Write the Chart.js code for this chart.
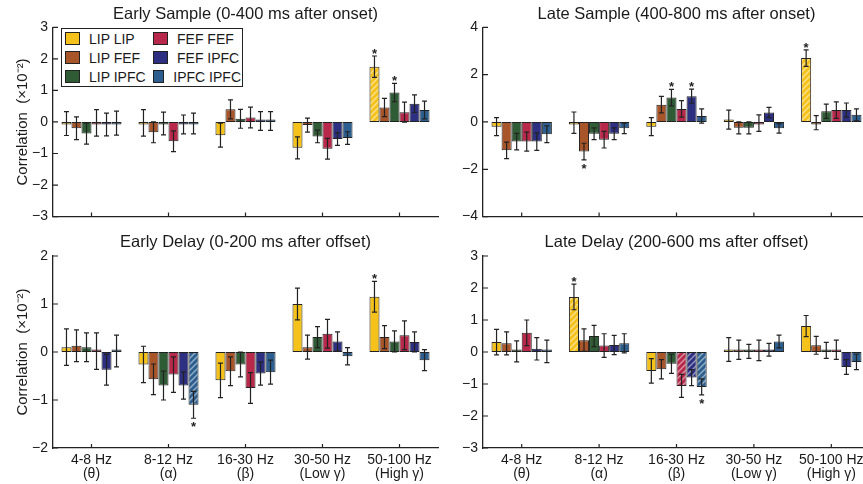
<!DOCTYPE html>
<html>
<head>
<meta charset="utf-8">
<script src="https://cdn.jsdelivr.net/npm/chart.js@4.4.1/dist/chart.umd.min.js"></script>
<style>
  html, body { margin: 0; padding: 0; background: #fff; }
  body { width: 863px; height: 484px; overflow: hidden; position: relative; font-family: "Liberation Sans", Arial, sans-serif; }
  canvas { position: absolute; }
  #legend {
    position: absolute; left: 61px; top: 28px; width: 177px; height: 57px;
    border: 1.5px solid #222; background: #fff; z-index: 5;
    display: grid; grid-template-columns: 88px 88px; grid-auto-rows: 19px;
    padding-left: 3px; box-sizing: content-box;
  }
  .item { display: flex; align-items: center; font-size: 14px; color: #1a1a1a; white-space: nowrap; }
  .sw { width: 13px; height: 11px; border: 1px solid #222; margin-right: 9px; }
</style>
</head>
<body>
<canvas id="c1" width="440" height="230" style="left:0;top:0"></canvas>
<canvas id="c2" width="442" height="230" style="left:430px;top:0"></canvas>
<canvas id="c3" width="440" height="254" style="left:0;top:230px"></canvas>
<canvas id="c4" width="442" height="254" style="left:430px;top:230px"></canvas>
<div id="legend"></div>
<script>
// Data (correlation x10^-2), rows = area pairs, columns = frequency bands
const pairs = ['LIP LIP', 'LIP FEF', 'LIP IPFC', 'FEF FEF', 'FEF IPFC', 'IPFC IPFC'];
const pairColors = ['#f5c21b', '#a9552a', '#2f5b35', '#b8284a', '#2d2f80', '#2c5f8f'];
const bands = [['4-8 Hz', '(θ)'], ['8-12 Hz', '(α)'], ['16-30 Hz', '(β)'], ['30-50 Hz', '(Low γ)'], ['50-100 Hz', '(High γ)']];

const earlySampleMean = [
  [-0.05, -0.03, -0.42, -0.82, 1.75],
  [-0.2, -0.33, 0.4, -0.1, 0.46],
  [-0.37, -0.05, 0.1, -0.46, 0.93],
  [-0.03, -0.61, 0.14, -0.85, 0.31],
  [-0.08, -0.08, 0.03, -0.54, 0.58],
  [-0.04, -0.05, 0.03, -0.51, 0.38]
];
const earlySampleErr = [
  [0.38, 0.42, 0.38, 0.35, 0.34],
  [0.36, 0.33, 0.3, 0.22, 0.29],
  [0.33, 0.36, 0.3, 0.2, 0.29],
  [0.42, 0.33, 0.33, 0.33, 0.32],
  [0.36, 0.3, 0.3, 0.2, 0.28],
  [0.38, 0.33, 0.3, 0.2, 0.28]
];
const earlySampleStars = [[0, 4], [2, 4]];
const earlySampleHatch = [[0, 4]];

const lateSampleMean = [
  [-0.2, -0.03, -0.2, 0.1, 2.7],
  [-1.2, -1.25, 0.73, -0.25, -0.03],
  [-0.83, -0.5, 1.03, -0.25, 0.45],
  [-0.83, -0.75, 0.55, -0.05, 0.5],
  [-0.83, -0.5, 1.09, 0.4, 0.5],
  [-0.52, -0.27, 0.25, -0.27, 0.3]
];
const lateSampleErr = [
  [0.38, 0.45, 0.38, 0.4, 0.35],
  [0.35, 0.35, 0.35, 0.25, 0.3],
  [0.35, 0.25, 0.35, 0.25, 0.3],
  [0.4, 0.35, 0.35, 0.35, 0.35],
  [0.37, 0.25, 0.3, 0.22, 0.3],
  [0.35, 0.22, 0.3, 0.2, 0.25]
];
const lateSampleStars = [[1, 1], [2, 2], [4, 2], [0, 4]];
const lateSampleHatch = [[0, 4]];

const earlyDelayMean = [
  [0.1, -0.26, -0.59, 1.0, 1.15],
  [0.13, -0.57, -0.4, 0.1, 0.31],
  [0.1, -0.7, -0.26, 0.31, 0.22],
  [0.02, -0.47, -0.75, 0.38, 0.35],
  [-0.37, -0.7, -0.45, 0.22, 0.21],
  [0.02, -1.1, -0.42, -0.09, -0.17]
];
const earlyDelayErr = [
  [0.38, 0.38, 0.36, 0.33, 0.32],
  [0.33, 0.32, 0.3, 0.25, 0.24],
  [0.3, 0.3, 0.26, 0.22, 0.22],
  [0.38, 0.37, 0.32, 0.3, 0.3],
  [0.32, 0.28, 0.24, 0.2, 0.21],
  [0.33, 0.28, 0.25, 0.18, 0.22]
];
const earlyDelayStars = [[5, 1], [0, 4]];
const earlyDelayHatch = [[5, 1]];

const lateDelayMean = [
  [0.31, 1.72, -0.59, 0.08, 0.81],
  [0.27, 0.37, -0.54, 0.07, 0.21],
  [0.02, 0.5, -0.37, 0.02, 0.05],
  [0.6, 0.2, -1.06, 0.05, 0.07],
  [0.1, 0.22, -0.8, 0.07, -0.47],
  [0.02, 0.27, -1.09, 0.33, -0.31]
];
const lateDelayErr = [
  [0.4, 0.4, 0.38, 0.37, 0.33],
  [0.36, 0.35, 0.3, 0.3, 0.28],
  [0.33, 0.33, 0.3, 0.22, 0.25],
  [0.4, 0.37, 0.36, 0.32, 0.3],
  [0.35, 0.3, 0.25, 0.2, 0.23],
  [0.35, 0.3, 0.25, 0.2, 0.24]
];
const lateDelayStars = [[0, 1], [5, 2]];
const lateDelayHatch = [[0, 1], [3, 2], [4, 2], [5, 2]];

const yTitle = 'Correlation  (×10\u207B\u00B2)';

Chart.defaults.font.family = '"Liberation Sans", Arial, sans-serif';
Chart.defaults.color = '#1a1a1a';

// Legend (HTML)
const legend = document.getElementById('legend');
const legendOrder = [0, 3, 1, 4, 2, 5];
legend.innerHTML = legendOrder.map(i =>
  `<div class="item"><span class="sw" style="background:${pairColors[i]}"></span>${pairs[i]}</div>`
).join('');

const makeHatch = (ctx, color) => {
  const c = document.createElement('canvas');
  c.width = 6; c.height = 6;
  const g = c.getContext('2d');
  g.fillStyle = color;
  g.fillRect(0, 0, 6, 6);
  g.strokeStyle = 'rgba(255,255,255,0.5)';
  g.lineWidth = 1.4;
  g.beginPath();
  g.moveTo(0, 6); g.lineTo(6, 0);
  g.moveTo(-1, 1); g.lineTo(1, -1);
  g.moveTo(5, 7); g.lineTo(7, 5);
  g.stroke();
  return ctx.createPattern(c, 'repeat');
};

const errorBarsPlugin = {
  id: 'errorBars',
  afterDatasetsDraw(chart, args, opts) {
    const { ctx } = chart;
    const y = chart.scales.y;
    ctx.save();
    ctx.strokeStyle = '#222';
    ctx.lineWidth = 1.2;
    chart.data.datasets.forEach((ds, di) => {
      const meta = chart.getDatasetMeta(di);
      meta.data.forEach((bar, bi) => {
        const v = ds.data[bi];
        const e = ds.errors[bi];
        const yTop = y.getPixelForValue(v + e);
        const yBot = y.getPixelForValue(v - e);
        ctx.beginPath();
        ctx.moveTo(bar.x, yTop); ctx.lineTo(bar.x, yBot);
        ctx.moveTo(bar.x - 2.5, yTop); ctx.lineTo(bar.x + 2.5, yTop);
        ctx.moveTo(bar.x - 2.5, yBot); ctx.lineTo(bar.x + 2.5, yBot);
        ctx.stroke();
      });
    });
    ctx.fillStyle = '#222';
    ctx.font = 'bold 13px "Liberation Sans", Arial, sans-serif';
    ctx.textAlign = 'center';
    ctx.textBaseline = 'alphabetic';
    (opts.stars || []).forEach(([di, bi]) => {
      const ds = chart.data.datasets[di];
      const bar = chart.getDatasetMeta(di).data[bi];
      const v = ds.data[bi];
      const e = ds.errors[bi];
      if (v >= 0) {
        ctx.fillText('*', bar.x, y.getPixelForValue(v + e) + 2);
      } else {
        ctx.fillText('*', bar.x, y.getPixelForValue(v - e) + 13);
      }
    });
    ctx.restore();
  }
};

const innerTicksPlugin = {
  id: 'innerTicks',
  afterDraw(chart) {
    const { ctx, chartArea } = chart;
    const x = chart.scales.x;
    const y = chart.scales.y;
    ctx.save();
    ctx.strokeStyle = '#222';
    ctx.lineWidth = 1.2;
    ctx.beginPath();
    x.ticks.forEach((t, i) => {
      const px = x.getPixelForTick(i);
      ctx.moveTo(px, chartArea.bottom); ctx.lineTo(px, chartArea.bottom - 4);
    });
    y.ticks.forEach((t, i) => {
      const py = y.getPixelForTick(i);
      ctx.moveTo(chartArea.left, py); ctx.lineTo(chartArea.left + 5, py);
    });
    ctx.stroke();
    ctx.restore();
  }
};

const makePanel = (id, title, means, errs, yMin, yMax, step, stars, hatch, bottomRow, leftCol) => {
  const canvas = document.getElementById(id);
  const ctx = canvas.getContext('2d');
  const datasets = pairs.map((p, pi) => ({
    label: p,
    data: means[pi],
    errors: errs[pi],
    backgroundColor: means[pi].map((v, bi) =>
      hatch.some(([a, b]) => a === pi && b === bi) ? makeHatch(ctx, pairColors[pi]) : pairColors[pi]),
    borderColor: '#222',
    borderWidth: 1,
    borderSkipped: false,
    minBarLength: 2.5,
    barPercentage: 1.0,
    categoryPercentage: 0.78
  }));

  return new Chart(ctx, {
    type: 'bar',
    data: { labels: bands, datasets },
    options: {
      responsive: false,
      animation: false,
      events: [],
      layout: { padding: { left: 0, right: 2, top: 0, bottom: 0 } },
      plugins: {
        legend: { display: false },
        tooltip: { enabled: false },
        title: {
          display: true,
          fullSize: false,
          text: title,
          font: { size: 16.5, weight: 'normal', lineHeight: 1.2 },
          color: '#1a1a1a',
          padding: bottomRow ? { top: 2.5, bottom: 3.7 } : { top: 4.5, bottom: 3 }
        },
        errorBars: { stars }
      },
      scales: {
        x: {
          grid: { display: false, drawTicks: false },
          border: { display: true, color: '#222', width: 1.3 },
          ticks: {
            display: bottomRow,
            font: { size: 14, lineHeight: 1.0 },
            padding: 5,
            maxRotation: 0,
            autoSkip: false
          },
          afterFit: (s) => { s.height = bottomRow ? 36 : 12; }
        },
        y: {
          min: yMin,
          max: yMax,
          grid: { display: false, drawTicks: false },
          border: { display: true, color: '#222', width: 1.3 },
          ticks: {
            stepSize: step,
            font: { size: 14 },
            padding: 5,
            callback: (v) => (v < 0 ? '\u2212' + Math.abs(v) : String(v))
          },
          title: {
            display: leftCol,
            text: yTitle,
            font: { size: 15 },
            padding: { top: 14, bottom: 0 }
          },
          afterFit: (s) => { s.width = 53; }
        }
      }
    },
    plugins: [errorBarsPlugin, innerTicksPlugin]
  });
};

makePanel('c1', 'Early Sample (0-400 ms after onset)', earlySampleMean, earlySampleErr, -3, 3, 1, earlySampleStars, earlySampleHatch, false, true);
makePanel('c2', 'Late Sample (400-800 ms after onset)', lateSampleMean, lateSampleErr, -4, 4, 2, lateSampleStars, lateSampleHatch, false, false);
makePanel('c3', 'Early Delay (0-200 ms after offset)', earlyDelayMean, earlyDelayErr, -2, 2, 1, earlyDelayStars, earlyDelayHatch, true, true);
makePanel('c4', 'Late Delay (200-600 ms after offset)', lateDelayMean, lateDelayErr, -3, 3, 1, lateDelayStars, lateDelayHatch, true, false);
</script>
</body>
</html>
